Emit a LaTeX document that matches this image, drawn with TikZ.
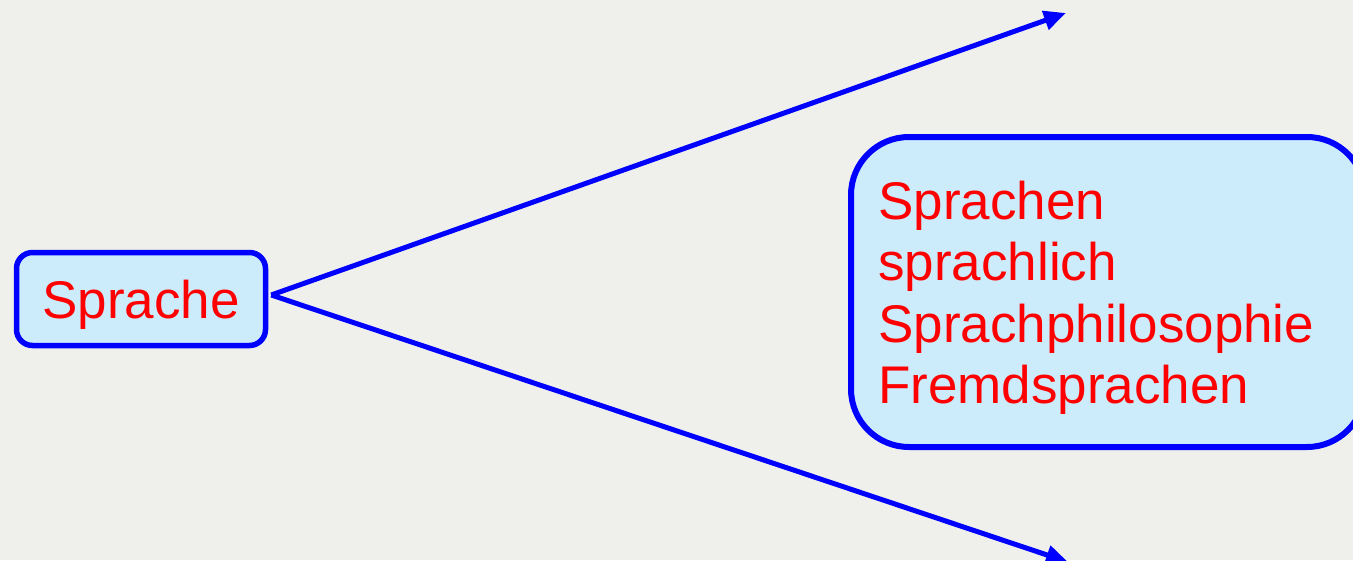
\documentclass[tikz,border=0pt]{standalone}
\usepackage{fontspec}
\setmainfont{Liberation Sans}
\usetikzlibrary{arrows.meta}
\definecolor{bgc}{RGB}{239,240,235}
\definecolor{boxfill}{RGB}{204,236,252}
\definecolor{boxline}{RGB}{0,0,255}
\definecolor{txt}{RGB}{255,0,0}
\tikzset{
  smallbox/.style={draw=boxline, fill=boxfill, line width=5.5pt, rounded corners=16pt, inner sep=0pt},
  bigbox/.style={draw=boxline, fill=boxfill, line width=6pt, rounded corners=58pt, inner sep=0pt},
  label text/.style={text=txt, font=\fontsize{53}{61.3}\selectfont},
  link/.style={draw=boxline, line width=5pt, -{Triangle[length=22pt,width=19pt]}}
}
\begin{document}
\begin{tikzpicture}[x=1pt,y=-1pt]
\useasboundingbox (0,0) rectangle (1353,560);
\fill[bgc] (0,0) rectangle (1353,560);
\begin{scope}
\clip (0,0) rectangle (1353,560);
\node[smallbox, label text, minimum width=249pt, minimum height=93pt, text height=38pt, text depth=0pt] (sprache) at (141,299) {Sprache};
\node[bigbox, minimum width=514pt, minimum height=310pt] (topics) at (1108,292) {};
\node[label text, anchor=north west, inner sep=0pt, align=left] (list) at (878,181) {Sprachen\\sprachlich\\Sprachphilosophie\\Fremdsprachen};
\coordinate (apex) at ([xshift=3pt,yshift=4pt]sprache.east);
\coordinate (topend) at (1066,13);
\coordinate (botend) at (1068,562);
\draw[link] (apex) -- (topend);
\draw[link] (apex) -- (botend);
\end{scope}
\end{tikzpicture}
\end{document}
